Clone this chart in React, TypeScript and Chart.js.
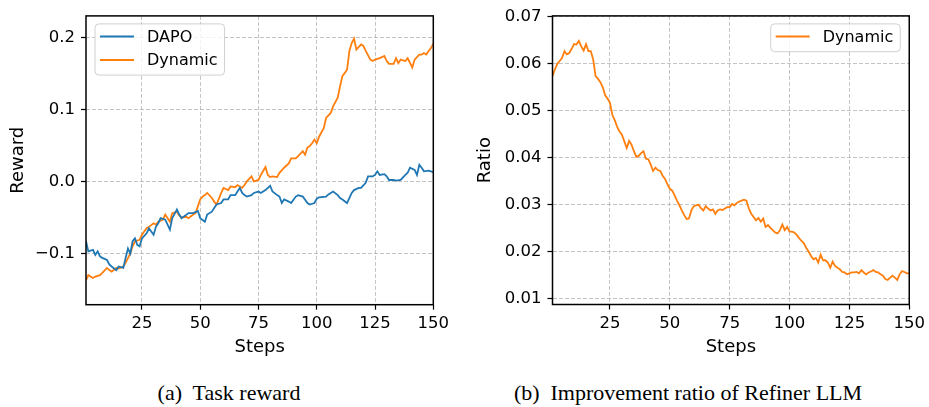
import React, { useEffect, useRef } from 'react';
import { Chart, registerables } from 'chart.js';

Chart.register(...registerables);

// ---------- Data ----------
const dapoSteps = [1,2,4,5,6,7,8,10,11,12,14,15,17,18,19,20,21,22,23,24,25,27,28,30,31,32,33,35,36,37,38,40,41,42,45,47,49,50,52,53,55,56,57,59,60,62,63,65,66,67,68,69,70,72,73,75,76,78,80,81,83,84,85,86,88,89,91,92,94,96,97,99,100,101,104,105,107,109,110,111,113,115,116,118,119,121,122,124,125,126,127,129,130,131,133,134,136,138,139,140,142,143,144,145,146,148,150];
const dapoReward = [-0.083,-0.097,-0.095,-0.102,-0.097,-0.104,-0.106,-0.109,-0.115,-0.118,-0.123,-0.118,-0.120,-0.106,-0.093,-0.100,-0.083,-0.079,-0.088,-0.090,-0.079,-0.072,-0.065,-0.074,-0.063,-0.058,-0.051,-0.053,-0.060,-0.067,-0.051,-0.039,-0.046,-0.051,-0.044,-0.044,-0.041,-0.051,-0.056,-0.046,-0.042,-0.037,-0.032,-0.030,-0.025,-0.025,-0.019,-0.019,-0.014,-0.009,-0.016,-0.019,-0.021,-0.019,-0.016,-0.014,-0.016,-0.012,-0.006,-0.014,-0.019,-0.021,-0.030,-0.025,-0.028,-0.030,-0.021,-0.019,-0.021,-0.030,-0.032,-0.030,-0.024,-0.022,-0.021,-0.018,-0.014,-0.019,-0.023,-0.025,-0.030,-0.016,-0.012,-0.009,-0.009,-0.002,0.007,0.007,0.009,0.014,0.009,0.010,0.007,0.002,0.002,0.001,0.002,0.009,0.012,0.019,0.016,0.009,0.023,0.019,0.014,0.015,0.013];

const dynSteps = [1,2,4,5,7,8,10,11,12,14,15,17,18,20,21,22,24,25,27,28,30,31,32,34,35,37,38,40,41,42,44,45,47,48,50,51,52,53,55,56,57,59,60,62,63,65,66,68,69,70,72,73,75,76,78,79,80,81,83,84,86,88,89,91,92,94,95,96,97,98,99,100,101,103,104,106,107,109,110,111,113,114,115,116,117,119,120,121,123,124,125,127,129,130,131,133,134,135,136,138,139,141,142,144,145,146,147,148,149,150];
const dynReward = [-0.137,-0.130,-0.134,-0.132,-0.130,-0.127,-0.120,-0.123,-0.125,-0.120,-0.121,-0.118,-0.113,-0.100,-0.090,-0.083,-0.081,-0.074,-0.065,-0.063,-0.058,-0.060,-0.056,-0.053,-0.046,-0.056,-0.044,-0.042,-0.047,-0.050,-0.049,-0.051,-0.046,-0.044,-0.025,-0.021,-0.019,-0.016,-0.023,-0.028,-0.032,-0.016,-0.009,-0.012,-0.007,-0.008,-0.005,-0.009,-0.005,0.000,0.007,0.000,0.002,0.009,0.020,0.009,0.006,0.007,0.006,0.012,0.019,0.025,0.032,0.032,0.035,0.042,0.037,0.047,0.049,0.053,0.058,0.053,0.062,0.074,0.088,0.095,0.104,0.116,0.132,0.146,0.155,0.181,0.192,0.198,0.183,0.190,0.188,0.181,0.169,0.167,0.169,0.171,0.174,0.167,0.163,0.163,0.171,0.164,0.169,0.167,0.171,0.158,0.169,0.176,0.176,0.178,0.176,0.181,0.185,0.191];

const ratioDynamic = [0.0573,0.0587,0.0599,0.0605,0.0612,0.0626,0.0619,0.0622,0.0631,0.0641,0.0640,0.0648,0.0636,0.0627,0.0641,0.0626,0.0626,0.0608,0.0573,0.0567,0.0560,0.0549,0.0532,0.0525,0.0516,0.0490,0.0479,0.0465,0.0455,0.0448,0.0434,0.0420,0.0435,0.0427,0.0413,0.0401,0.0403,0.0409,0.0413,0.0397,0.0396,0.0385,0.0371,0.0378,0.0373,0.0371,0.0361,0.0354,0.0343,0.0333,0.0329,0.0319,0.0308,0.0298,0.0287,0.0277,0.0269,0.0270,0.0287,0.0296,0.0298,0.0299,0.0292,0.0287,0.0296,0.0291,0.0287,0.0289,0.0280,0.0287,0.0289,0.0288,0.0291,0.0294,0.0294,0.0301,0.0298,0.0303,0.0306,0.0308,0.0310,0.0308,0.0291,0.0280,0.0273,0.0266,0.0271,0.0263,0.0270,0.0252,0.0256,0.0250,0.0245,0.0240,0.0238,0.0245,0.0257,0.0245,0.0252,0.0242,0.0242,0.0240,0.0235,0.0228,0.0222,0.0217,0.0207,0.0199,0.0190,0.0183,0.0186,0.0176,0.0193,0.0181,0.0181,0.0176,0.0165,0.0178,0.0169,0.0165,0.0162,0.0156,0.0155,0.0151,0.0153,0.0155,0.0155,0.0156,0.0153,0.0160,0.0155,0.0151,0.0155,0.0157,0.0160,0.0156,0.0155,0.0151,0.0148,0.0141,0.0139,0.0144,0.0148,0.0144,0.0139,0.0151,0.0158,0.0156,0.0153,0.0153];

const stepTicks = [25, 50, 75, 100, 125, 150];
const rewardTicks = [-0.1, 0.0, 0.1, 0.2];
const ratioTicks = [0.01, 0.02, 0.03, 0.04, 0.05, 0.06, 0.07];

const BLUE = '#1f77b4';
const ORANGE = '#ff7f0e';
const SANS = '"DejaVu Sans", sans-serif';

// ---------- Plugin: matplotlib-like frame + legend ----------
const mplPlugin = {
  id: 'mplFrame',
  afterDraw(chart: any, _args: any, opts: any) {
    const { ctx, chartArea: a } = chart;
    ctx.save();
    ctx.strokeStyle = '#000';
    ctx.lineWidth = 1.5;
    ctx.strokeRect(a.left, a.top, a.right - a.left, a.bottom - a.top);

    const items = chart.data.datasets;
    ctx.font = '16px ' + SANS;
    const textW = Math.max(...items.map((d: any) => ctx.measureText(d.label).width));
    const padL = 5, lineLen = 34, gap = 13, padR = 7, rowH = 23.4, padT = 12.6, padB = 15.2;
    const w = padL + lineLen + gap + textW + padR;
    const h = padT + rowH * (items.length - 1) + padB;
    const x0 = opts.align === 'right' ? a.right - 9 - w : a.left + 9;
    const y0 = a.top + 8;
    ctx.beginPath();
    if (ctx.roundRect) ctx.roundRect(x0, y0, w, h, 4); else ctx.rect(x0, y0, w, h);
    ctx.fillStyle = 'rgba(255,255,255,0.8)';
    ctx.fill();
    ctx.strokeStyle = '#d0d0d0';
    ctx.lineWidth = 1;
    ctx.stroke();
    items.forEach((d: any, i: number) => {
      const cy = y0 + padT + rowH * i;
      ctx.beginPath();
      ctx.strokeStyle = d.borderColor;
      ctx.lineWidth = 2;
      ctx.moveTo(x0 + padL, cy);
      ctx.lineTo(x0 + padL + lineLen, cy);
      ctx.stroke();
      ctx.fillStyle = '#000';
      ctx.textBaseline = 'middle';
      ctx.textAlign = 'left';
      ctx.fillText(d.label, x0 + padL + lineLen + gap, cy + 1);
    });
    ctx.restore();
  },
};

function fmtReward(v: number) {
  const s = Math.abs(v).toFixed(1);
  return v < -1e-9 ? '\u2212' + s : s;
}

function makeOptions(p: {
  yMin: number; yMax: number; yTicks: number[]; yTitle: string; yFmt: (v: number) => string;
  yWidth: number; yTitlePad: number; padRight: number; padTop: number; xHeight: number; align: string;
}) {
  const gridCommon = {
    color: 'rgba(176,176,176,0.75)',
    lineWidth: 1,
    drawTicks: true,
    tickLength: 5,
    tickColor: '#000',
    tickWidth: 1.2,
    tickBorderDash: [],
  };
  return {
    animation: false,
    responsive: false,
    maintainAspectRatio: false,
    layout: { padding: { left: 0, top: p.padTop, right: p.padRight, bottom: 0 } },
    plugins: {
      legend: { display: false },
      tooltip: { enabled: false },
      mplFrame: { align: p.align },
    },
    elements: { point: { radius: 0 }, line: { tension: 0, borderWidth: 1.8 } },
    scales: {
      x: {
        type: 'linear',
        min: 1,
        max: 150,
        afterBuildTicks: (s: any) => { s.ticks = stepTicks.map((v) => ({ value: v })); },
        afterFit: (s: any) => { s.height = p.xHeight; },
        ticks: { color: '#000', font: { family: SANS, size: 16.5 }, padding: 4, maxRotation: 0, autoSkip: false,
          callback: (v: any) => String(v) },
        grid: gridCommon,
        border: { display: false, dash: [4, 2] },
        title: { display: true, text: 'Steps', color: '#000', font: { family: SANS, size: 18 }, padding: { top: 0, bottom: 7 } },
      },
      y: {
        type: 'linear',
        min: p.yMin,
        max: p.yMax,
        afterBuildTicks: (s: any) => { s.ticks = p.yTicks.map((v) => ({ value: v })); },
        afterFit: (s: any) => { s.width = p.yWidth; },
        ticks: { color: '#000', font: { family: SANS, size: 16.5 }, padding: 6, autoSkip: false,
          callback: (v: any) => p.yFmt(Number(v)) },
        grid: gridCommon,
        border: { display: false, dash: [4, 2] },
        title: { display: true, text: p.yTitle, color: '#000', font: { family: SANS, size: 18 }, padding: { top: p.yTitlePad, bottom: 0 } },
      },
    },
  };
}

function ChartCanvas({ config, left, width, height }: { config: any; left: number; width: number; height: number }) {
  const ref = useRef<HTMLCanvasElement | null>(null);
  useEffect(() => {
    if (!ref.current) return;
    const chart = new Chart(ref.current, config);
    return () => chart.destroy();
  }, []);
  return (
    <canvas
      ref={ref}
      width={width}
      height={height}
      style={{ position: 'absolute', left, top: 0, width, height }}
    />
  );
}

export default function App() {
  const leftConfig = {
    type: 'line',
    data: {
      datasets: [
        { label: 'DAPO', data: dapoSteps.map((x, i) => ({ x, y: dapoReward[i] })), borderColor: BLUE, backgroundColor: BLUE, fill: false },
        { label: 'Dynamic', data: dynSteps.map((x, i) => ({ x, y: dynReward[i] })), borderColor: ORANGE, backgroundColor: ORANGE, fill: false },
      ],
    },
    options: makeOptions({
      yMin: -0.171, yMax: 0.2296, yTicks: rewardTicks, yTitle: 'Reward', yFmt: fmtReward,
      yWidth: 86, yTitlePad: 7.5, padRight: 26.7, padTop: 12.7, xHeight: 60.3, align: 'left',
    }),
    plugins: [mplPlugin],
  };

  const rightConfig = {
    type: 'line',
    data: {
      datasets: [
        { label: 'Dynamic', data: ratioDynamic.map((y, i) => ({ x: i + 1, y })), borderColor: ORANGE, backgroundColor: ORANGE, fill: false },
      ],
    },
    options: makeOptions({
      yMin: 0.00868, yMax: 0.0701, yTicks: ratioTicks, yTitle: 'Ratio', yFmt: (v) => v.toFixed(2),
      yWidth: 92.5, yTitlePad: 14.2, padRight: 17.5, padTop: 11, xHeight: 60.5, align: 'right',
    }),
    plugins: [mplPlugin],
  };

  const captionStyle: React.CSSProperties = {
    position: 'absolute',
    top: 382,
    height: 22,
    lineHeight: '22px',
    fontFamily: '"Liberation Serif", "Times New Roman", serif',
    fontSize: 22,
    color: '#000',
    whiteSpace: 'pre',
    transform: 'translateX(-50%)',
  };

  return (
    <div style={{ position: 'absolute', left: 0, top: 0, width: 929, height: 407, background: '#fff', overflow: 'hidden' }}>
      <ChartCanvas config={leftConfig} left={0} width={460} height={365} />
      <ChartCanvas config={rightConfig} left={460} width={469} height={365} />
      <div style={{ ...captionStyle, left: 229 }}>(a)  Task reward</div>
      <div style={{ ...captionStyle, left: 688 }}>(b)  Improvement ratio of Refiner LLM</div>
    </div>
  );
}
